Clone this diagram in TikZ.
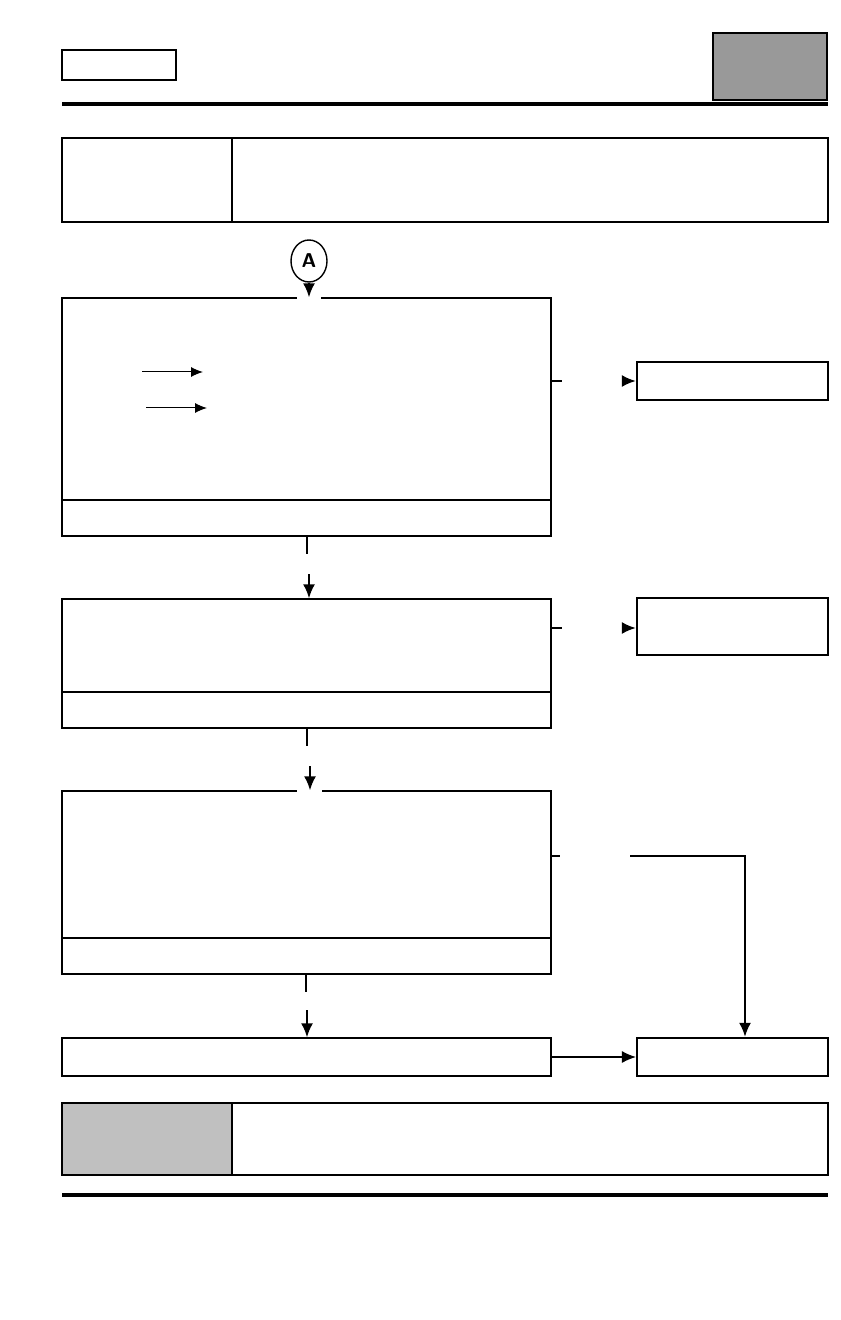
\documentclass[tikz,border=0pt]{standalone}
\usepackage{tikz}
\usetikzlibrary{arrows.meta,calc,fit,positioning,shapes.geometric}
\definecolor{headgray}{HTML}{999999}
\definecolor{notegray}{HTML}{C0C0C0}
\tikzset{
    >={Latex[length=7pt,width=6pt]},
    stepbox/.style={
        rectangle,
        draw, line width=0.6pt,
        inner sep=0pt
    },
    sidebox/.style={
        rectangle,
        draw, line width=1.1pt,
        inner sep=0pt
    },
    tablebox/.style={
        rectangle,
        draw, line width=1pt,
        inner sep=0pt
    },
    flow/.style={draw, line width=1.1pt, ->},
    stub/.style={draw, line width=1.1pt},
    smallarrow/.style={draw, line width=0.5pt, -{Latex[length=6pt,width=5pt]}},
    rule/.style={line width=2pt},
    gap/.style={draw=white, line width=2pt},
}

\begin{document}
\begin{tikzpicture}[x=0.5pt, y=-0.5pt]
    \useasboundingbox (0,0) rectangle (840,1320);

    % header
    \node[stepbox, fit={(62,50) (176,80)}] (ref) {};
    \node[tablebox, fill=headgray, line width=1.3pt, fit={(713,33) (827,100)}] (tab) {};
    \draw[rule] (62,104) -- (828,104);

    \node[tablebox, fit={(62,138) (828,222)}] (title) {};
    \draw[line width=1pt] (232,138) -- (232,222);

    % entry point
    \node[ellipse, draw, line width=0.7pt, minimum width=18pt, minimum height=21pt,
        inner sep=0pt, font=\sffamily\bfseries] (A) at (309,261) {A};

    % main steps
    \node[stepbox, fit={(62,298) (551,536)}] (s1) {};
    \draw[line width=0.6pt] (62,500) -- (551,500);
    \node[stepbox, fit={(62,599) (551,728)}] (s2) {};
    \draw[line width=0.6pt] (62,692) -- (551,692);
    \node[stepbox, fit={(62,791) (551,974)}] (s3) {};
    \draw[line width=0.6pt] (62,938) -- (551,938);
    \node[stepbox, fit={(62,1038) (551,1076)}] (s4) {};

    % side results
    \node[sidebox, fit={(637,362) (828,400)}] (r1) {};
    \node[sidebox, fit={(637,598) (828,655)}] (r2) {};
    \node[sidebox, fit={(637,1038) (828,1076)}] (r3) {};

    % gaps in top edges
    \draw[gap] (297,298) -- (321,298);
    \draw[gap] (297,791) -- (322,791);

    \draw[flow] (A.south) -- (A.south |- s1.north);

    % inner arrows of step 1
    \coordinate (i1) at (142,372);
    \coordinate (i2) at (146,408);
    \draw[smallarrow] (i1) -- ++(61,0);
    \draw[smallarrow] (i2) -- ++(61,0);

    % down connectors
    \coordinate (d1) at (307,554);
    \coordinate (e1) at (309,574);
    \draw[stub] (s1.south -| d1) -- (d1);
    \draw[flow] (e1) -- (e1 |- s2.north);

    \coordinate (d2) at (307,746);
    \coordinate (e2) at (310,766);
    \draw[stub] (s2.south -| d2) -- (d2);
    \draw[flow] (e2) -- (e2 |- s3.north);

    \coordinate (d3) at (306,992);
    \coordinate (e3) at (307,1010);
    \draw[line width=0.6pt] (s3.south -| d3) -- (d3);
    \draw[flow] (e3) -- (e3 |- s4.north);

    % side connectors
    \coordinate (h1) at (562,381);
    \coordinate (k1) at (622,381);
    \draw[stub] (s1.east |- h1) -- (h1);
    \draw[flow] (k1) -- (r1.west |- k1);

    \coordinate (h2) at (562,628);
    \coordinate (k2) at (622,628);
    \draw[stub] (s2.east |- h2) -- (h2);
    \draw[flow] (k2) -- (r2.west |- k2);

    \coordinate (h3) at (560,856);
    \coordinate (k3) at (630,856);
    \draw[stub] (s3.east |- h3) -- (h3);
    \draw[flow] (k3) -- (745,856) -- (745,856 |- r3.north);

    \draw[line width=0.6pt, ->] (s4.east) -- (r3.west |- s4.east);

    % footer
    \node[tablebox, fit={(62,1103) (828,1175)}] (note) {};
    \fill[notegray] (62,1103) rectangle (232,1175);
    \draw[line width=1pt] (62,1103) rectangle (828,1175);
    \draw[line width=1pt] (232,1103) -- (232,1175);
    \draw[rule] (62,1195) -- (828,1195);
\end{tikzpicture}
\end{document}
